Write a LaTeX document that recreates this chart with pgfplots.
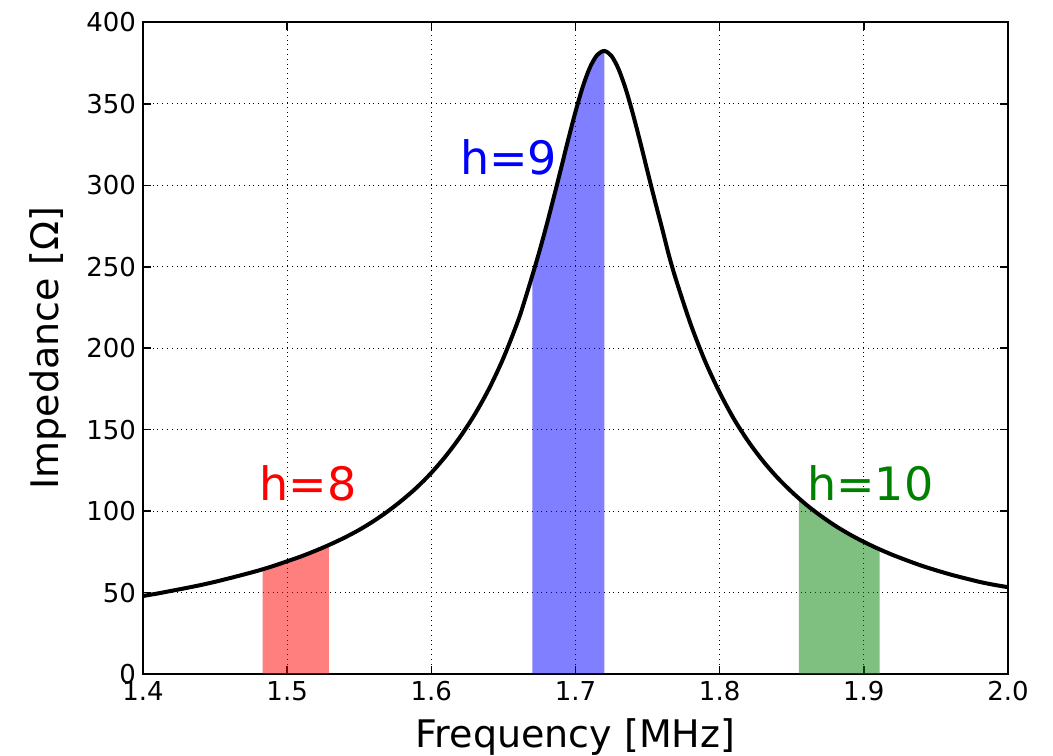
\documentclass[border=0pt]{standalone}
\usepackage{fontspec}
\setmainfont{DejaVu Sans}
\usepackage{pgfplots}
\pgfplotsset{compat=1.18}
\usepgfplotslibrary{fillbetween}
\definecolor{mplgreen}{rgb}{0,0.5,0}
\pgfplotstableread{
f z
1.400 47.9
1.410 49.4
1.420 51.1
1.430 52.8
1.440 54.6
1.450 56.6
1.460 58.8
1.470 61.1
1.480 63.5
1.490 66.2
1.500 69.2
1.510 72.3
1.520 75.8
1.530 79.6
1.540 83.8
1.550 88.5
1.560 93.9
1.570 100.0
1.580 106.9
1.590 114.6
1.600 123.5
1.610 133.8
1.620 145.6
1.630 159.2
1.640 175.1
1.650 194.0
1.660 216.5
1.665 230.0
1.670 244.5
1.675 259.6
1.680 275.8
1.685 292.9
1.690 310.5
1.695 328.3
1.700 345.2
1.705 360.4
1.710 372.4
1.715 380.0
1.720 382.5
1.725 379.4
1.730 371.1
1.735 358.7
1.740 343.3
1.745 326.2
1.750 308.4
1.755 290.8
1.760 273.8
1.765 256.4
1.770 241.3
1.780 214.5
1.790 191.8
1.800 172.8
1.810 156.4
1.820 142.6
1.830 130.8
1.840 120.6
1.850 111.8
1.860 104.0
1.870 97.2
1.880 91.1
1.890 85.8
1.900 81.1
1.910 76.9
1.920 73.1
1.930 69.7
1.940 66.5
1.950 63.7
1.960 61.1
1.970 58.8
1.980 56.6
1.990 54.8
2.000 53.3
}\impedance
\begin{document}
\begin{tikzpicture}
\begin{axis}[
  name=ax, scale only axis, width=432.5pt, height=325.75pt,
  xmin=1.4, xmax=2.0, ymin=0, ymax=400,
  xtick={1.4,1.5,1.6,1.7,1.8,1.9,2.0},
  xticklabels={1.4,1.5,1.6,1.7,1.8,1.9,2.0},
  ytick={0,50,100,150,200,250,300,350,400},
  yticklabels={0,50,100,150,200,250,300,350,400},
  tick align=inside, major tick length=4pt,
  tick style={black, line width=0.8pt},
  axis line style={black, line width=1pt},
  grid=major, major grid style={black, dotted, line width=0.5pt},
  tick label style={font=\fontsize{13}{15}\selectfont},
  label style={font=\fontsize{19}{23}\selectfont},
  xlabel={Frequency [MHz]}, ylabel={Impedance [Ω]},
  xlabel style={at={(axis description cs:0.5,-0.0967)}, anchor=center},
  ylabel style={at={(axis description cs:-0.110,0.5)}, anchor=center},
]
\addplot[draw=none, name path=curve, smooth, forget plot] table[x=f, y=z] {\impedance};
\addplot[draw=none, name path=base, forget plot] coordinates {(1.4,0) (2.0,0)};
\addplot[fill=red, fill opacity=0.5, draw=none] fill between[of=curve and base, soft clip={domain=1.483:1.529}];
\addplot[fill=blue, fill opacity=0.5, draw=none] fill between[of=curve and base, soft clip={domain=1.670:1.720}];
\addplot[fill=mplgreen, fill opacity=0.5, draw=none] fill between[of=curve and base, soft clip={domain=1.855:1.911}];
\addplot[black, line width=2pt, smooth] table[x=f, y=z] {\impedance};
\node[red, font=\fontsize{23}{27}\selectfont, anchor=center] at (axis cs:1.5144,117) {h=8};
\node[blue, font=\fontsize{23}{27}\selectfont, anchor=center] at (axis cs:1.6536,317) {h=9};
\node[mplgreen, font=\fontsize{23}{27}\selectfont, anchor=center] at (axis cs:1.9045,117) {h=10};
\end{axis}
\pgfresetboundingbox
\path ([shift={(-71.5pt,-41pt)}]ax.south west) rectangle ([shift={(22.5pt,11.25pt)}]ax.north east);
\end{tikzpicture}
\end{document}
